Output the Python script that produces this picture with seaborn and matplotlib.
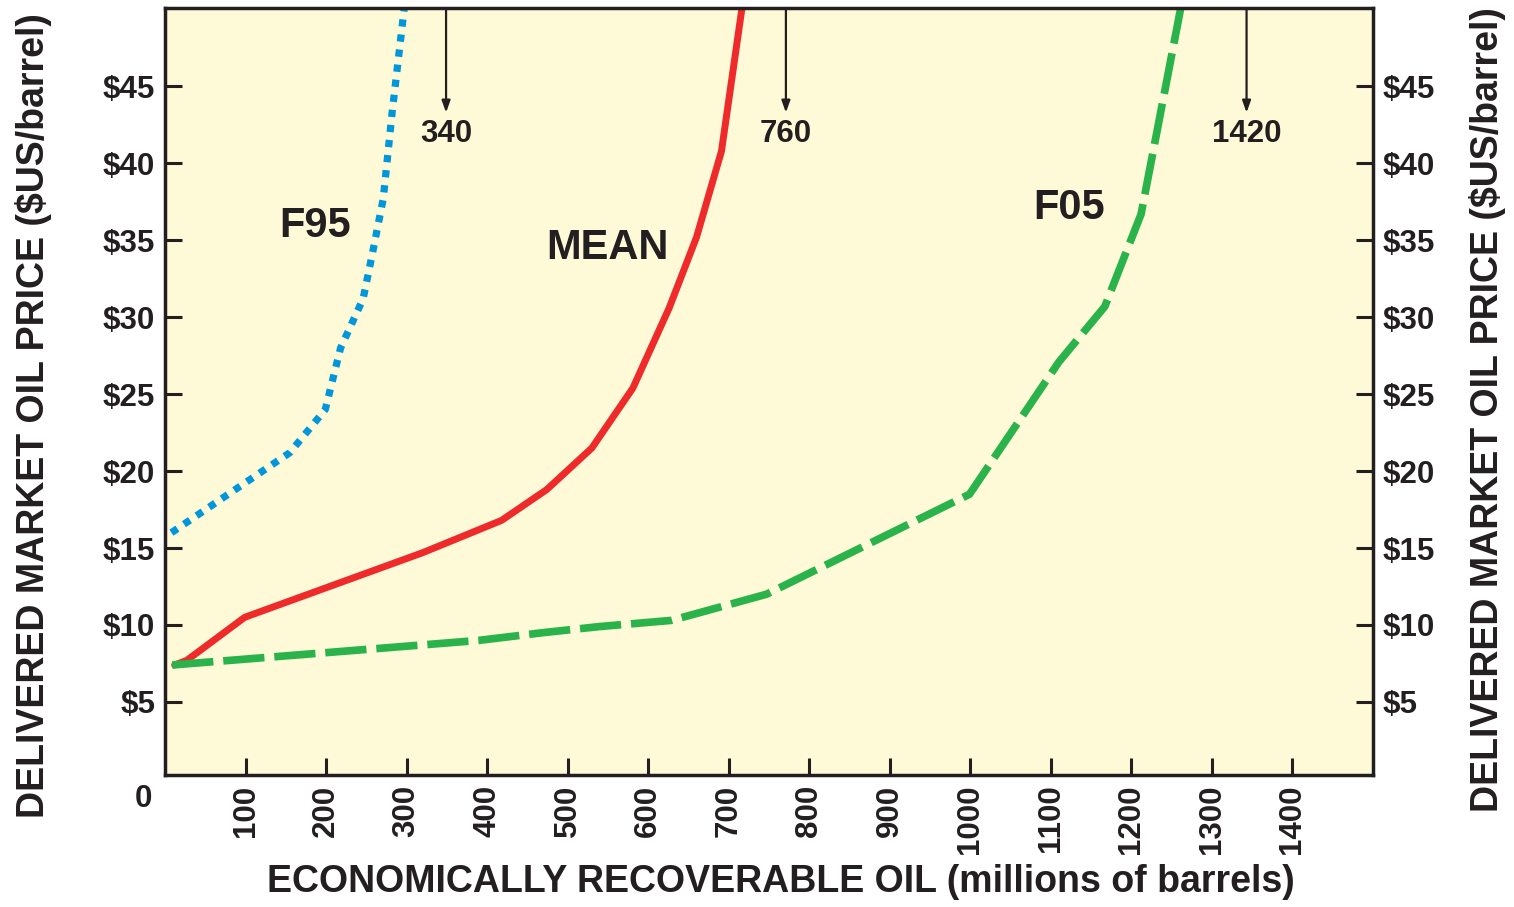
import matplotlib
matplotlib.use("Agg")
import matplotlib.pyplot as plt
import seaborn as sns
import pandas as pd

# ======== DATA ========
f95_x = [8, 155, 199, 218, 246, 257, 271, 282, 298]
f95_y = [16.0, 21.2, 24.0, 28.0, 31.2, 34.0, 37.7, 43.3, 50.5]

mean_x = [12, 27, 99, 320, 418, 474, 530, 581, 626, 660, 691, 717]
mean_y = [7.4, 7.7, 10.5, 14.7, 16.8, 18.8, 21.5, 25.4, 30.6, 35.2, 40.8, 50.3]

f05_x = [9, 390, 469, 540, 629, 747, 999, 1110, 1167, 1212, 1262]
f05_y = [7.4, 9.0, 9.5, 9.9, 10.3, 12.0, 18.5, 27.1, 30.7, 36.7, 50.3]

x_ticks = [100, 200, 300, 400, 500, 600, 700, 800, 900, 1000, 1100, 1200, 1300, 1400]
y_ticks = [5, 10, 15, 20, 25, 30, 35, 40, 45]
y_tick_labels = ["$5", "$10", "$15", "$20", "$25", "$30", "$35", "$40", "$45"]

arrow_x = [349, 771, 1343]
arrow_labels = ["340", "760", "1420"]

curve_names = ["F95", "MEAN", "F05"]
curve_label_x = [186, 550, 1123]
curve_label_y = [35.9, 34.5, 37.1]
# ======================

sns.set_style("ticks")
plt.rcParams["font.family"] = ["Liberation Sans", "DejaVu Sans"]
plt.rcParams["font.weight"] = "bold"

INK = "#231f20"
BG = "#fef9d6"
TICK_FS = 22.5

fig = plt.figure(figsize=(15.14, 9.07), dpi=100)
ax = fig.add_axes([165 / 1514, 1 - 775 / 907, 1208 / 1514, 767 / 907])
ax.set_facecolor(BG)

df95 = pd.DataFrame({"x": f95_x, "y": f95_y})
dfmean = pd.DataFrame({"x": mean_x, "y": mean_y})
df05 = pd.DataFrame({"x": f05_x, "y": f05_y})

sns.lineplot(data=df95, x="x", y="y", ax=ax, color="#0096db", linewidth=5.2,
             sort=False, estimator=None, linestyle=(0, (1, 1.1)))
sns.lineplot(data=dfmean, x="x", y="y", ax=ax, color="#ee2a2a", linewidth=5,
             sort=False, estimator=None)
sns.lineplot(data=df05, x="x", y="y", ax=ax, color="#2ab34b", linewidth=5.5,
             sort=False, estimator=None, linestyle=(0, (5.4, 1.3)))

ax.set_xlim(0, 1500)
ax.set_ylim(0.25, 50.1)

ax.set_xticks(x_ticks)
ax.set_xticklabels([str(t) for t in x_ticks], rotation=90, fontsize=TICK_FS,
                   fontweight="bold", color=INK)
ax.set_yticks(y_ticks)
ax.set_yticklabels(y_tick_labels, fontsize=TICK_FS, fontweight="bold", color=INK)
ax.tick_params(axis="both", direction="in", length=12, width=2.2, color=INK, pad=7)

for s in ax.spines.values():
    s.set_linewidth(2.5)
    s.set_color(INK)

ax2 = ax.twinx()
ax2.set_ylim(ax.get_ylim())
ax2.set_yticks(y_ticks)
ax2.set_yticklabels(y_tick_labels, fontsize=TICK_FS, fontweight="bold", color=INK)
ax2.tick_params(axis="y", direction="in", length=12, width=2.2, color=INK, pad=7)
for s in ax2.spines.values():
    s.set_visible(False)

ylab = "DELIVERED MARKET OIL PRICE ($US/barrel)"
ax.set_ylabel(ylab, fontsize=27, fontweight="bold", color=INK, va="center")
ax.yaxis.set_label_coords(-0.109, 0.468)
ax2.set_ylabel(ylab, fontsize=27, fontweight="bold", color=INK, va="center",
               rotation=90)
ax2.yaxis.set_label_coords(1.0945, 0.476)

ax.set_xlabel("ECONOMICALLY RECOVERABLE OIL (millions of barrels)", fontsize=27,
              fontweight="bold", color=INK, va="center")
ax.xaxis.set_label_coords(0.51, -0.1395)

ax.text(-0.018, -0.031, "0", transform=ax.transAxes, ha="center", va="center",
        fontsize=TICK_FS, fontweight="bold", color=INK)

# arrows from the top edge
for xv, lab in zip(arrow_x, arrow_labels):
    ax.annotate("", xy=(xv, 43.3), xytext=(xv, 50.1),
                arrowprops=dict(arrowstyle="-|>,head_length=0.7,head_width=0.25",
                                color=INK, lw=1.6, shrinkA=0, shrinkB=0))
    ax.text(xv, 41.9, lab, ha="center", va="center", fontsize=22.5,
            fontweight="bold", color=INK)

for name, lx, ly in zip(curve_names, curve_label_x, curve_label_y):
    ax.text(lx, ly, name, ha="center", va="center", fontsize=30,
            fontweight="bold", color=INK)

ax.grid(False)
fig.savefig("out.png", dpi=100, facecolor="white")
